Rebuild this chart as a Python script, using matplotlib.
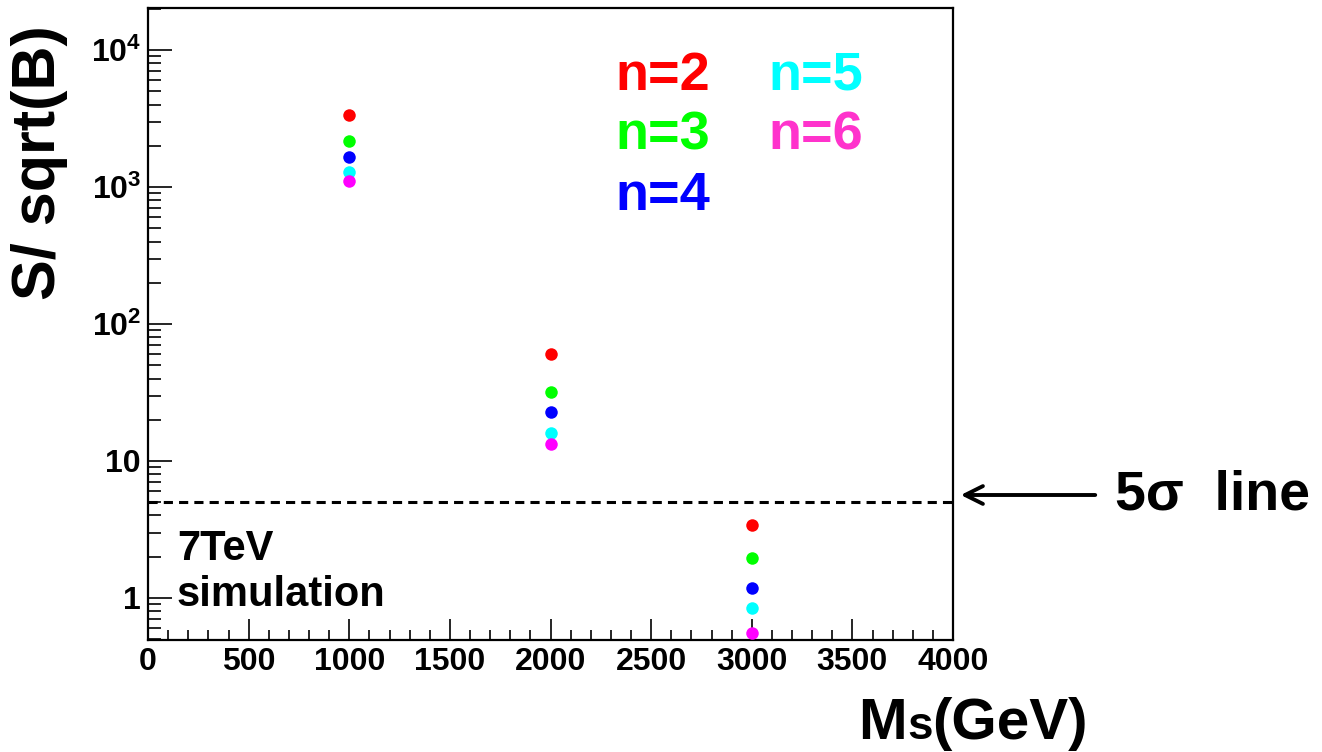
#!/usr/bin/env python3

import math
import matplotlib
matplotlib.use('Agg')
import matplotlib.pyplot as plt
from matplotlib.ticker import LogLocator, NullFormatter, FuncFormatter, MultipleLocator

plt.rcParams['font.family'] = ['Liberation Sans', 'DejaVu Sans']
plt.rcParams['font.weight'] = 'bold'
plt.rcParams['mathtext.fontset'] = 'custom'
plt.rcParams['mathtext.rm'] = 'Liberation Sans:bold'
plt.rcParams['mathtext.bf'] = 'Liberation Sans:bold'
plt.rcParams['mathtext.it'] = 'Liberation Sans:bold'

# string mass points (GeV) and S/sqrt(B) for each number of extra dimensions n
MASS = [1000, 2000, 3000]
N_LABELS = ['n=2', 'n=3', 'n=4', 'n=5', 'n=6']
SIGNIF = {
    'n=2': [3350, 60.0, 3.41],
    'n=3': [2170, 31.8, 1.96],
    'n=4': [1660, 22.8, 1.18],
    'n=5': [1290, 16.0, 0.84],
    'n=6': [1100, 13.4, 0.55],
}
FIVE_SIGMA = 5.0

POINT_COLORS = ['#ff0000', '#00ff00', '#0000ff', '#00ffff', '#ff00ff']
TEXT_COLORS = ['#ff0000', '#00ff00', '#0000ff', '#00ffff', '#ff33cc']

W, H = 1322, 752
fig = plt.figure(figsize=(W / 100, H / 100), dpi=100)
ax = fig.add_axes([148 / W, 1 - 640 / H, (953 - 148) / W, (640 - 8) / H])

for lab, col in zip(N_LABELS, POINT_COLORS):
    ax.plot(MASS, SIGNIF[lab], 'o', color=col, markersize=9, markeredgewidth=0, zorder=3)

ax.axhline(FIVE_SIGMA, color='black', linestyle=(0, (3, 2)), linewidth=2.2)

ax.set_yscale('log')
ax.set_xlim(0, 4000)
ax.set_ylim(0.493, 2.03e4)

ax.xaxis.set_major_locator(MultipleLocator(500))
ax.xaxis.set_minor_locator(MultipleLocator(100))
ax.yaxis.set_major_locator(LogLocator(base=10, numticks=20))
ax.yaxis.set_minor_locator(LogLocator(base=10, subs=range(2, 10), numticks=20))
ax.yaxis.set_minor_formatter(NullFormatter())


def log_label(v, pos):
    if abs(v - 1) < 1e-9:
        return '1'
    if abs(v - 10) < 1e-9:
        return '10'
    return r'$\mathbf{10^{%d}}$' % round(math.log10(v))


ax.yaxis.set_major_formatter(FuncFormatter(log_label))

ax.tick_params(axis='both', which='both', direction='in', top=False, right=False,
               labelsize=23, width=1.2, color='black')
ax.tick_params(axis='y', which='major', length=17, pad=5)
ax.tick_params(axis='y', which='minor', length=9)
ax.tick_params(axis='x', which='major', length=15, pad=5)
ax.tick_params(axis='x', which='minor', length=7.5)
for lbl in ax.get_xticklabels() + ax.get_yticklabels():
    lbl.set_fontweight('bold')
for sp in ax.spines.values():
    sp.set_linewidth(1.6)

# axis titles
fig.text(40 / W, 1 - 163 / H, 'S/ sqrt(B)', rotation=90, fontsize=44,
         fontweight='bold', ha='center', va='center')
fig.text(858 / W, 1 - 739 / H, 'M', fontsize=42, fontweight='bold',
         ha='left', va='baseline')
fig.text(907 / W, 1 - 739 / H, 's', fontsize=33, fontweight='bold',
         ha='left', va='baseline')
fig.text(932 / W, 1 - 739 / H, '(GeV)', fontsize=42, fontweight='bold',
         ha='left', va='baseline')

# legend as coloured text
legend_pos = [(615, 90), (615, 150), (615, 210), (768, 90), (768, 150)]
for lab, col, (px, py) in zip(N_LABELS, TEXT_COLORS, legend_pos):
    fig.text(px / W, 1 - py / H, lab, color=col, fontsize=39,
             fontweight='bold', ha='left', va='baseline')

fig.text(177 / W, 1 - 560 / H, '7TeV', fontsize=30, fontweight='bold',
         ha='left', va='baseline')
fig.text(177 / W, 1 - 606 / H, 'simulation', fontsize=30, fontweight='bold',
         ha='left', va='baseline')

# 5 sigma marker outside the frame
ax.annotate('', xy=(958 / W, 1 - 495 / H), xycoords='figure fraction',
            xytext=(1098 / W, 1 - 495 / H), textcoords='figure fraction',
            arrowprops=dict(arrowstyle='->', lw=2.8, color='black',
                            mutation_scale=32))
fig.text(1115 / W, 1 - 509 / H, '5σ  line', fontsize=40, fontweight='bold',
         ha='left', va='baseline')

fig.savefig('out.png', dpi=100)
